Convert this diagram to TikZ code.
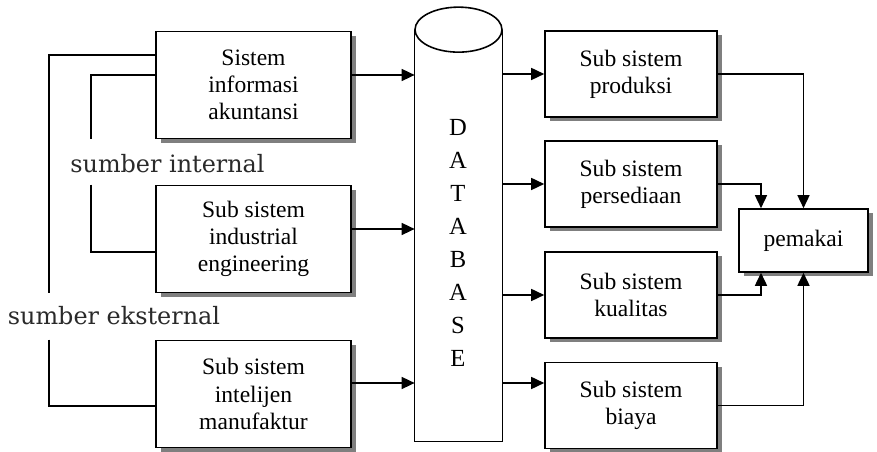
\documentclass[tikz,border=0pt]{standalone}
\usepackage{fontspec}
\setmainfont{Liberation Serif}
\newfontfamily\srcfont{DejaVu Serif}
\usepackage{xcolor}
\usepackage{tikz}
\usetikzlibrary{positioning, arrows.meta, shadows}
\definecolor{sys-shadow}{HTML}{7F7F7F}
\definecolor{sys-label}{HTML}{2A2A2A}

\begin{document}
\begin{tikzpicture}[
    box/.style={draw, fill=white, line width=0.9pt, align=center,
                font=\fontsize{13.4}{15.5}\selectfont,
                drop shadow={shadow xshift=0.09cm, shadow yshift=-0.09cm, fill=sys-shadow, opacity=1}},
    srcbox/.style={box, minimum width=3.9cm, minimum height=2.14cm},
    subbox/.style={box, minimum width=3.44cm, minimum height=1.72cm},
    arr/.style={-{Triangle[length=0.26cm, width=0.24cm]}, line width=0.9pt},
    line/.style={line width=0.9pt},
    lbl/.style={font=\srcfont\fontsize{13.6}{16}\selectfont, text=sys-label},
]
    \useasboundingbox[fill=white] (0, 0) rectangle (17.54, 9.04);

    % Sources
    \node[srcbox] (sia) at (5.07, 7.34) {Sistem\\informasi\\akuntansi};
    \node[srcbox] (isi) at (5.07, 4.26) {Sub sistem\\industrial\\engineering};
    \node[srcbox] (iml) at (5.07, 1.16) {Sub sistem\\intelijen\\manufaktur};

    % Database
    \node[minimum width=1.74cm, minimum height=8.22cm, inner sep=0] (db) at (9.17, 4.33) {};
    \draw[line] (db.north west) -- (db.south west) -- (db.south east) -- (db.north east);
    \draw[line, fill=white] (db.north) ellipse [x radius=0.87cm, y radius=0.45cm];
    \node[align=center, font=\fontsize{14}{18.8}\selectfont] (dbtext) at (9.16, 4.18)
        {D\\A\\T\\A\\B\\A\\S\\E};

    % Subsystems
    \node[subbox] (prod)  at (12.62, 7.56) {Sub sistem\\produksi};
    \node[subbox] (pers)  at (12.62, 5.36) {Sub sistem\\persediaan};
    \node[subbox] (kual)  at (12.62, 3.14) {Sub sistem\\kualitas};
    \node[subbox] (biaya) at (12.62, 0.93) {Sub sistem\\biaya};
    \node[box, minimum width=2.58cm, minimum height=1.26cm] (pem) at (16.07, 4.23) {pemakai};

    % Labels
    \node[lbl] (int) at (3.35, 5.77) {sumber internal};
    \node[lbl] (ext) at (2.28, 2.72) {sumber eksternal};

    % Feedback lines
    \draw[line] ([yshift=0.2cm]sia.west) -- ++(-1.28, 0) coordinate (ibus) -- (ibus |- sia.south);
    \draw[line] (ibus |- isi.north) |- ([yshift=-0.26cm]isi.west);
    \draw[line] ([yshift=0.6cm]sia.west) -- ++(-2.12, 0) coordinate (ebus) -- (ebus |- isi.south);
    \draw[line] (ebus |- iml.north) |- ([yshift=-0.24cm]iml.west);

    % Arrows into database
    \draw[arr] ([yshift=0.2cm]sia.east) -- ([yshift=0.2cm]sia.east -| db.west);
    \draw[arr] ([yshift=0.2cm]isi.east) -- ([yshift=0.2cm]isi.east -| db.west);
    \draw[arr] ([yshift=0.22cm]iml.east) -- ([yshift=0.22cm]iml.east -| db.west);

    % Arrows out of database
    \draw[arr] (db.east |- prod) -- (prod.west);
    \draw[arr] (db.east |- pers) -- (pers.west);
    \draw[arr] (db.east |- kual) -- (kual.west);
    \draw[arr] ([yshift=0.45cm]biaya.west -| db.east) -- ([yshift=0.45cm]biaya.west);

    % Arrows to user
    \draw[arr] (prod.east)  -| (pem.north);
    \draw[arr] (pers.east)  -| ([xshift=-0.85cm]pem.north);
    \draw[arr] (kual.east)  -| ([xshift=-0.85cm]pem.south);
    \draw[arr] (biaya.east) -| (pem.south);
\end{tikzpicture}
\end{document}
